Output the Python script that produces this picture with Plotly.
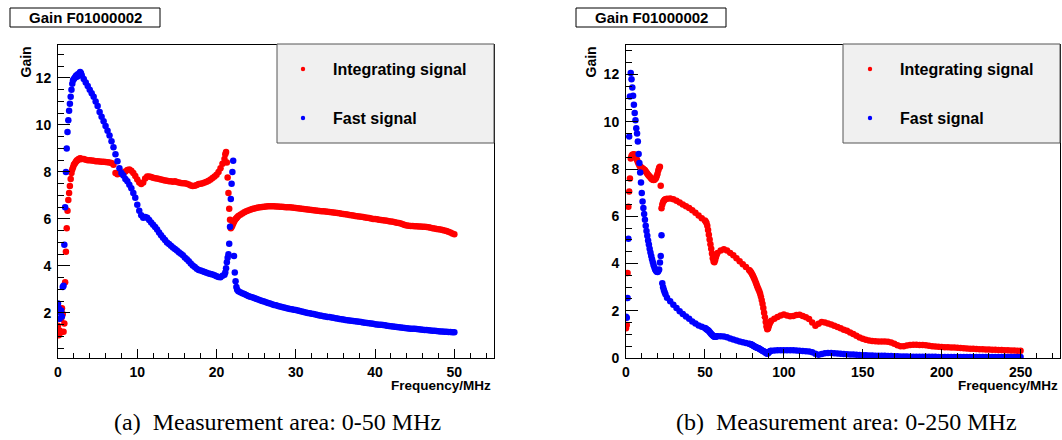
import plotly.graph_objects as go

# ---------------- data: panel (a) 0-50 MHz ----------------
freq_a = [
    0.0, 0.1, 0.2, 0.3, 0.4, 0.5, 0.6, 0.7, 0.8, 0.9,
    1.0, 1.1, 1.2, 1.3, 1.4, 1.5, 1.6, 1.7, 1.8, 1.9,
    2.0, 2.1, 2.2, 2.3, 2.4, 2.5, 2.6, 2.7, 2.8, 2.9,
    3.0,
    3.25, 3.5, 3.75, 4.0, 4.25, 4.5, 4.75, 5.0, 5.25, 5.5,
    5.75, 6.0, 6.25, 6.5, 6.75, 7.0, 7.25, 7.5, 7.75, 8.0,
    8.25, 8.5, 8.75, 9.0, 9.25, 9.5, 9.75, 10.0, 10.25, 10.5,
    10.75, 11.0, 11.25, 11.5, 11.75, 12.0, 12.25, 12.5, 12.75, 13.0,
    13.25, 13.5, 13.75, 14.0, 14.25, 14.5, 14.75, 15.0, 15.25, 15.5,
    15.75, 16.0, 16.25, 16.5, 16.75, 17.0, 17.25, 17.5, 17.75, 18.0,
    18.25, 18.5, 18.75, 19.0, 19.25, 19.5, 19.75, 20.0, 20.25, 20.5,
    20.75,
    21.0, 21.1, 21.2, 21.3, 21.4, 21.5, 21.6, 21.7, 21.8, 21.9,
    22.0, 22.1, 22.2, 22.3, 22.4, 22.5, 22.6,
    22.75, 23.0, 23.25, 23.5, 23.75, 24.0, 24.25, 24.5, 24.75, 25.0,
    25.25, 25.5, 25.75, 26.0, 26.25, 26.5, 26.75, 27.0, 27.25, 27.5,
    27.75, 28.0, 28.25, 28.5, 28.75, 29.0, 29.25, 29.5, 29.75, 30.0,
    30.25, 30.5, 30.75, 31.0, 31.25, 31.5, 31.75, 32.0, 32.25, 32.5,
    32.75, 33.0, 33.25, 33.5, 33.75, 34.0, 34.25, 34.5, 34.75, 35.0,
    35.25, 35.5, 35.75, 36.0, 36.25, 36.5, 36.75, 37.0, 37.25, 37.5,
    37.75, 38.0, 38.25, 38.5, 38.75, 39.0, 39.25, 39.5, 39.75, 40.0,
    40.25, 40.5, 40.75, 41.0, 41.25, 41.5, 41.75, 42.0, 42.25, 42.5,
    42.75, 43.0, 43.25, 43.5, 43.75, 44.0, 44.25, 44.5, 44.75, 45.0,
    45.25, 45.5, 45.75, 46.0, 46.25, 46.5, 46.75, 47.0, 47.25, 47.5,
    47.75, 48.0, 48.25, 48.5, 48.75, 49.0, 49.25, 49.5, 49.75, 50.0,
]

integ_a = [
    1.45, 1.05, 1.25, 1.15, 1.75, 2.2, 1.95, 1.2, 1.55, 3.3,
    4.6, 5.6, 6.35, 6.8, 7.1, 7.4, 7.7, 7.95, 8.1, 8.2,
    8.3, 8.35, 8.4, 8.45, 8.5, 8.5, 8.55, 8.55, 8.58, 8.55,
    8.55,
    8.55, 8.52, 8.5, 8.5, 8.48, 8.47, 8.45, 8.45, 8.44, 8.43,
    8.43, 8.42, 8.41, 8.4, 8.38, 8.3, 7.95, 7.9, 7.92, 7.95,
    7.97, 8.02, 8.08, 8.1, 8.05, 7.95, 7.82, 7.68, 7.55, 7.48,
    7.55, 7.72, 7.8, 7.8, 7.78, 7.75, 7.73, 7.72, 7.7, 7.68,
    7.66, 7.63, 7.62, 7.6, 7.6, 7.58, 7.6, 7.57, 7.55, 7.53,
    7.52, 7.52, 7.5, 7.46, 7.42, 7.4, 7.41, 7.44, 7.48, 7.5,
    7.52, 7.55, 7.58, 7.62, 7.68, 7.74, 7.8, 7.88, 8.0, 8.15,
    8.35,
    8.55, 8.75, 8.85, 8.4, 7.76, 7.1, 6.43, 5.96, 5.6, 5.65,
    5.72, 5.8, 5.88, 5.94, 5.99, 6.03, 6.07,
    6.12, 6.18, 6.23, 6.28, 6.32, 6.36, 6.39, 6.42, 6.44, 6.46,
    6.48, 6.5, 6.51, 6.52, 6.53, 6.54, 6.54, 6.54, 6.54, 6.53,
    6.53, 6.52, 6.52, 6.51, 6.5, 6.5, 6.49, 6.48, 6.47, 6.46,
    6.45, 6.44, 6.43, 6.42, 6.41, 6.4, 6.39, 6.38, 6.37, 6.36,
    6.35, 6.34, 6.33, 6.32, 6.31, 6.3, 6.29, 6.28, 6.27, 6.26,
    6.25, 6.24, 6.22, 6.21, 6.2, 6.19, 6.17, 6.15, 6.14, 6.12,
    6.11, 6.1, 6.09, 6.08, 6.06, 6.05, 6.04, 6.02, 6.0, 5.99,
    5.98, 5.96, 5.95, 5.94, 5.93, 5.92, 5.9, 5.89, 5.88, 5.86,
    5.84, 5.82, 5.8, 5.77, 5.74, 5.72, 5.71, 5.7, 5.7, 5.69,
    5.69, 5.68, 5.68, 5.67, 5.67, 5.66, 5.64, 5.62, 5.6, 5.59,
    5.57, 5.56, 5.55, 5.53, 5.51, 5.48, 5.45, 5.42, 5.38, 5.35,
]

fast_a = [
    2.4, 2.2, 1.75, 2.0, 2.1, 1.85, 3.1, 3.15, 4.9, 6.5,
    8.0, 9.0, 9.7, 10.2, 10.6, 10.9, 11.2, 11.5, 11.75, 11.9,
    11.95, 12.0, 12.05, 12.1, 12.05, 12.15, 12.1, 12.2, 12.25, 12.2,
    12.1,
    11.95, 11.8, 11.65, 11.5, 11.35, 11.2, 11.0, 10.8, 10.55, 10.35,
    10.15, 9.95, 9.75, 9.55, 9.3, 9.05, 8.75, 8.45, 8.15, 7.95,
    7.85, 7.7, 7.6, 7.45, 7.3, 7.1, 6.9, 6.6, 6.35, 6.15,
    6.05, 6.08, 6.05, 5.95, 5.85, 5.75, 5.65, 5.55, 5.42, 5.3,
    5.2, 5.1, 5.0, 4.93, 4.86, 4.78, 4.72, 4.65, 4.58, 4.52,
    4.45, 4.36, 4.28, 4.2, 4.1, 4.02, 3.95, 3.88, 3.83, 3.8,
    3.77, 3.74, 3.71, 3.68, 3.66, 3.63, 3.6, 3.56, 3.53, 3.52,
    3.58,
    3.62, 3.72, 3.9, 4.15, 4.35, 4.5, 4.94, 5.67, 6.85, 7.5,
    8.0, 8.47, 4.42, 3.72, 3.35, 3.1, 2.98,
    2.92, 2.88, 2.84, 2.8, 2.76, 2.72, 2.69, 2.66, 2.63, 2.6,
    2.57, 2.54, 2.51, 2.48, 2.45, 2.42, 2.4, 2.37, 2.34, 2.32,
    2.29, 2.27, 2.25, 2.23, 2.21, 2.19, 2.17, 2.15, 2.13, 2.12,
    2.1, 2.08, 2.06, 2.04, 2.02, 2.0, 1.98, 1.96, 1.95, 1.93,
    1.91, 1.89, 1.88, 1.86, 1.85, 1.83, 1.82, 1.8, 1.79, 1.77,
    1.76, 1.74, 1.73, 1.72, 1.7, 1.69, 1.68, 1.66, 1.65, 1.64,
    1.63, 1.62, 1.61, 1.59, 1.58, 1.57, 1.56, 1.55, 1.54, 1.52,
    1.51, 1.5, 1.49, 1.48, 1.47, 1.45, 1.44, 1.43, 1.42, 1.41,
    1.4, 1.39, 1.38, 1.37, 1.36, 1.35, 1.34, 1.33, 1.32, 1.32,
    1.31, 1.3, 1.29, 1.28, 1.27, 1.27, 1.26, 1.25, 1.24, 1.24,
    1.23, 1.22, 1.21, 1.21, 1.2, 1.2, 1.19, 1.19, 1.18, 1.18,
]

# ---------------- data: panel (b) 0-250 MHz ----------------
freq_b = [
    0.0, 0.5, 1.0, 1.5, 2.0, 2.5, 3.0, 3.5, 4.0, 4.5,
    5.0, 5.5, 6.0, 6.5, 7.0, 7.5, 8.0, 8.5, 9.0, 9.5,
    10.0, 10.5, 11.0, 11.5, 12.0, 12.5, 13.0, 13.5, 14.0, 14.5,
    15.0, 15.5, 16.0, 16.5, 17.0, 17.5, 18.0, 18.5, 19.0, 19.5,
    20.0, 20.5, 21.0, 21.5, 22.0, 22.5, 23.0, 23.5, 24.0, 24.5,
    25.0,
    26, 28, 30, 32, 34, 36, 38, 40, 42, 44, 46, 48, 50,
    50.5, 51, 51.5, 52, 52.5, 53, 53.5, 54, 54.5, 55, 55.5, 56, 56.5, 57, 57.5, 58,
    60, 62, 64, 66, 68, 70, 72, 74, 76, 78,
    78.5, 79, 79.5, 80, 80.5, 81, 81.5, 82, 82.5, 83,
    83.5, 84, 84.5, 85, 85.5, 86, 86.5, 87, 87.5, 88,
    88.5, 89, 89.5, 90, 90.5, 91, 91.5, 92,
    94, 96, 98, 100, 102, 104, 106, 108, 110, 112,
    114, 116, 118, 120, 122, 124, 126, 128, 130, 132,
    134, 136, 138, 140, 142, 144, 146, 148, 150, 152,
    154, 156, 158, 160, 162, 164, 166, 168, 170, 172,
    174, 176, 178, 180, 182, 184, 186, 188, 190, 192,
    194, 196, 198, 200, 202, 204, 206, 208, 210, 212,
    214, 216, 218, 220, 222, 224, 226, 228, 230, 232,
    234, 236, 238, 240, 242, 244, 246, 248, 250,
]

integ_b = [
    1.26, 1.4, 3.6, 6.4, 7.05, 7.6, 8.45, 8.55, 8.6, 8.6,
    8.62, 8.6, 8.55, 8.45, 8.38, 8.3, 8.22, 8.15, 8.1, 8.08,
    8.05, 8.02, 8.0, 7.97, 7.95, 7.9, 7.85, 7.8, 7.76, 7.72,
    7.68, 7.64, 7.6, 7.57, 7.55, 7.54, 7.55, 7.58, 7.62, 7.7,
    7.8, 7.95, 8.05, 8.1, 7.29, 6.34, 6.5, 6.6, 6.66, 6.7,
    6.72,
    6.74, 6.75, 6.72, 6.66, 6.58, 6.5, 6.42, 6.35, 6.25, 6.15, 6.03, 5.92, 5.82,
    5.78, 5.72, 5.6, 5.42, 5.22, 5.02, 4.82, 4.62, 4.42, 4.22, 4.08, 4.05, 4.15, 4.28, 4.38, 4.45,
    4.55, 4.6, 4.55, 4.45, 4.35, 4.22, 4.1, 3.97, 3.85, 3.72,
    3.69, 3.65, 3.6, 3.54, 3.47, 3.4, 3.32, 3.24, 3.15, 3.06,
    2.97, 2.9, 2.82, 2.72, 2.6, 2.46, 2.3, 2.12, 1.92, 1.72,
    1.52, 1.33, 1.22, 1.25, 1.35, 1.45, 1.52, 1.58,
    1.66, 1.74, 1.8, 1.84, 1.8, 1.77, 1.78, 1.82, 1.83, 1.78,
    1.72, 1.65, 1.5, 1.36, 1.45, 1.52, 1.5, 1.46, 1.42, 1.37,
    1.31, 1.26, 1.2, 1.15, 1.08, 1.02, 0.94, 0.87, 0.81, 0.77,
    0.74, 0.72, 0.71, 0.7, 0.7, 0.7, 0.69, 0.66, 0.6, 0.54,
    0.5, 0.5, 0.53, 0.55, 0.56, 0.56, 0.55, 0.55, 0.54, 0.52,
    0.5, 0.49, 0.48, 0.47, 0.46, 0.45, 0.44, 0.44, 0.43, 0.42,
    0.41, 0.4, 0.39, 0.39, 0.38, 0.37, 0.37, 0.36, 0.36, 0.35,
    0.35, 0.34, 0.34, 0.33, 0.33, 0.32, 0.32, 0.31, 0.31,
]

fast_b = [
    1.75, 1.7, 2.54, 5.05, 9.38, 11.07, 12.06, 11.8, 11.45, 11.1,
    10.72, 10.37, 10.06, 9.73, 9.5, 9.17, 8.64, 8.25, 7.85, 7.43,
    6.98, 6.62, 6.35, 6.1, 5.85, 5.6, 5.38, 5.17, 4.97, 4.8,
    4.63, 4.47, 4.32, 4.18, 4.05, 3.93, 3.83, 3.75, 3.69, 3.65,
    3.64, 3.68, 3.75, 4.04, 4.32, 5.2, 3.16, 3.0, 2.88, 2.78,
    2.7,
    2.55, 2.4, 2.25, 2.12, 1.98, 1.86, 1.76, 1.66, 1.55, 1.46, 1.38, 1.32, 1.27,
    1.25, 1.22, 1.2, 1.17, 1.14, 1.1, 1.06, 1.02, 0.98, 0.95, 0.92, 0.9, 0.9, 0.91, 0.92, 0.92,
    0.92, 0.91, 0.88, 0.83, 0.78, 0.74, 0.7, 0.67, 0.64, 0.6,
    0.59, 0.58, 0.57, 0.55, 0.53, 0.51, 0.49, 0.47, 0.45, 0.43,
    0.42, 0.41, 0.39, 0.37, 0.35, 0.33, 0.31, 0.29, 0.27, 0.25,
    0.22, 0.2, 0.18, 0.2, 0.24, 0.28, 0.3, 0.31,
    0.32, 0.33, 0.33, 0.33, 0.33, 0.33, 0.33, 0.32, 0.31, 0.3,
    0.29, 0.27, 0.24, 0.18, 0.14, 0.17, 0.2, 0.21, 0.21, 0.2,
    0.19, 0.18, 0.17, 0.16, 0.15, 0.15, 0.14, 0.13, 0.12, 0.12,
    0.11, 0.11, 0.1, 0.1, 0.09, 0.09, 0.08, 0.08, 0.07, 0.07,
    0.06, 0.06, 0.06, 0.05, 0.05, 0.05, 0.05, 0.05, 0.05, 0.05,
    0.05, 0.05, 0.04, 0.04, 0.04, 0.04, 0.04, 0.04, 0.04, 0.04,
    0.04, 0.04, 0.04, 0.04, 0.04, 0.04, 0.04, 0.04, 0.04, 0.04,
    0.04, 0.04, 0.04, 0.04, 0.04, 0.04, 0.04, 0.04, 0.04,
]

series_names = ["Integrating signal", "Fast signal"]
series_colors = ["#ff0000", "#0000ff"]
panel_title = "Gain F01000002"
x_title = "Frequency/MHz"
y_title = "Gain"
captions = ["(a)\u00a0\u00a0Measurement area: 0-50 MHz",
            "(b)\u00a0\u00a0Measurement area: 0-250 MHz"]

# ---------------- figure ----------------
W, H = 1062, 440


def fx(p):
    return p / W


def fy(p):
    return 1 - p / H


SANS = "Liberation Sans, Arial, sans-serif"
SERIF = "Liberation Serif, Times New Roman, serif"

fig = go.Figure()


def add_panel(freq, integ, fast, xa, ya):
    n = min(len(freq), len(integ), len(fast))
    for vals, name, col in ((integ, series_names[0], series_colors[0]),
                            (fast, series_names[1], series_colors[1])):
        fig.add_trace(go.Scatter(
            x=freq[:n], y=vals[:n], mode="markers", name=name,
            marker=dict(color=col, size=6.5, line=dict(width=0)),
            xaxis=xa, yaxis=ya, showlegend=False, hoverinfo="skip"))


add_panel(freq_a, integ_a, fast_a, "x", "y")
add_panel(freq_b, integ_b, fast_b, "x2", "y2")

tickfont = dict(family=SANS, size=14, color="black", weight="bold")
ydom = [fy(358), fy(45)]


def xaxis_cfg(dom, rng, dt, mdt):
    return dict(domain=dom, range=rng, dtick=dt, tick0=0, showgrid=False,
                zeroline=False, showline=True, linecolor="black", linewidth=1,
                mirror=True, ticks="inside", ticklen=9, tickwidth=1,
                tickcolor="black", tickfont=tickfont, ticklabelstandoff=1,
                automargin=False,
                minor=dict(dtick=mdt, tick0=0, ticks="inside", ticklen=5,
                           tickcolor="black", tickwidth=1, showgrid=False),
                fixedrange=True)


def yaxis_cfg(rng, anchor):
    return dict(domain=ydom, range=rng, dtick=2, tick0=0, showgrid=False,
                zeroline=False, showline=True, linecolor="black", linewidth=1,
                mirror=True, ticks="inside", ticklen=12, tickwidth=1,
                tickcolor="black", tickfont=tickfont, ticklabelstandoff=3,
                automargin=False,
                minor=dict(dtick=0.5, tick0=0, ticks="inside", ticklen=6,
                           tickcolor="black", tickwidth=1, showgrid=False),
                anchor=anchor, fixedrange=True)


layout = dict(
    width=W, height=H, margin=dict(l=0, r=0, t=0, b=0, pad=0),
    autosize=False,
    paper_bgcolor="white", plot_bgcolor="white", showlegend=False,
    xaxis=dict(xaxis_cfg([fx(58), fx(494)], [0, 55], 10, 2), anchor="y"),
    yaxis=yaxis_cfg([0.08, 13.4], "x"),
    xaxis2=dict(xaxis_cfg([fx(626), fx(1060)], [0, 275], 50, 10), anchor="y2"),
    yaxis2=yaxis_cfg([0, 13.25], "x2"),
)
fig.update_layout(**layout)

shapes = []
annotations = []

panels = [
    dict(title_box=(10, 160), ytitle_x=25, xtitle_right=493,
         legend=(277, 494), dot_x=303, text_x=331, cap_x=277),
    dict(title_box=(576, 726), ytitle_x=590, xtitle_right=1060,
         legend=(843, 1060), dot_x=870, text_x=898, cap_x=846),
]

for i, p in enumerate(panels):
    x0, x1 = p["title_box"]
    shapes.append(dict(type="rect", xref="paper", yref="paper",
                       x0=fx(x0), x1=fx(x1), y0=fy(27), y1=fy(8),
                       line=dict(color="black", width=1), fillcolor="white"))
    annotations.append(dict(text=panel_title, xref="paper", yref="paper",
                            x=fx((x0 + x1) / 2), y=fy(17.5), xanchor="center",
                            yanchor="middle", showarrow=False,
                            font=dict(family=SANS, size=15, color="black", weight="bold")))
    annotations.append(dict(text=y_title, xref="paper", yref="paper",
                            x=fx(p["ytitle_x"]), y=fy(45), xanchor="center",
                            yanchor="top", textangle=-90, showarrow=False,
                            font=dict(family=SANS, size=14, color="black", weight="bold")))
    annotations.append(dict(text=x_title, xref="paper", yref="paper",
                            x=fx(p["xtitle_right"]), y=fy(385), xanchor="right",
                            yanchor="middle", showarrow=False,
                            font=dict(family=SANS, size=13.5, color="black", weight="bold")))
    lx0, lx1 = p["legend"]
    shapes.append(dict(type="rect", xref="paper", yref="paper",
                       x0=fx(lx0), x1=fx(lx1), y0=fy(143), y1=fy(44),
                       line=dict(color="#555555", width=1), fillcolor="#f0f0f0"))
    for name, col, yy in ((series_names[0], series_colors[0], 69),
                          (series_names[1], series_colors[1], 118)):
        shapes.append(dict(type="circle", xref="paper", yref="paper",
                           x0=fx(p["dot_x"] - 2.2), x1=fx(p["dot_x"] + 2.2),
                           y0=fy(yy + 2.2), y1=fy(yy - 2.2),
                           line=dict(width=0), fillcolor=col))
        annotations.append(dict(text=name, xref="paper", yref="paper",
                                x=fx(p["text_x"]), y=fy(yy), xanchor="left",
                                yanchor="middle", showarrow=False,
                                font=dict(family=SANS, size=16, color="black", weight="bold")))
    annotations.append(dict(text=captions[i], xref="paper", yref="paper",
                            x=fx(p["cap_x"]), y=fy(422), xanchor="center",
                            yanchor="middle", showarrow=False,
                            font=dict(family=SERIF, size=24, color="black")))

fig.update_layout(shapes=shapes, annotations=annotations)

fig.write_html("out.html", config={"displayModeBar": False, "staticPlot": True},
               post_script="document.body.style.margin='0px';document.body.style.overflow='hidden';")
